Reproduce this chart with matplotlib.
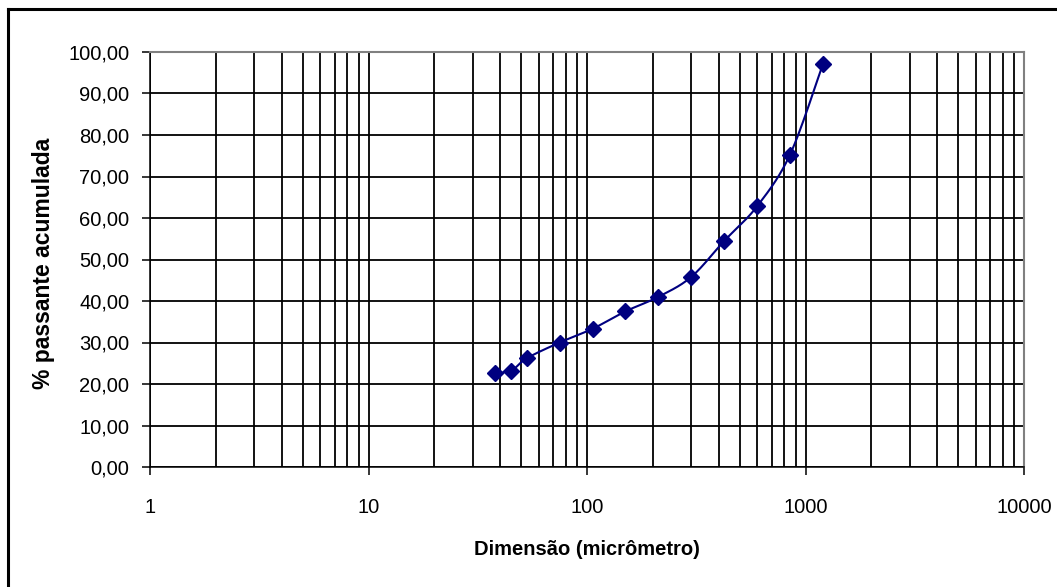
import matplotlib
matplotlib.use("Agg")
import matplotlib.pyplot as plt
import numpy as np
from matplotlib.lines import Line2D
from matplotlib.ticker import FixedLocator, FuncFormatter, LogLocator

# sieve openings (micrometres) and cumulative % passing
dimensao = [38, 45, 53, 75, 106, 150, 212, 300, 425, 600, 850, 1200]
passante = [22.7, 23.2, 26.2, 30.0, 33.3, 37.5, 41.0, 45.8, 54.5, 62.8, 75.3, 97.0]

x_ticks = [1, 10, 100, 1000, 10000]
y_ticks = list(range(0, 101, 10))

plt.rcParams["font.family"] = ["Liberation Sans", "DejaVu Sans"]

W, H = 1057, 587
fig = plt.figure(figsize=(W / 100, H / 100), dpi=100)
ax = fig.add_axes([150 / W, 1 - 467 / H, (1024 - 150) / W, (467 - 52) / H])


def smooth_curve(xs, ys, n=40):
    # Excel-like smoothed line: Catmull-Rom bezier in log-x / linear-y space
    u = np.log10(xs) * 218.0
    v = np.asarray(ys) * 4.15
    pts = np.column_stack([u, v])
    out = []
    for i in range(len(pts) - 1):
        p0 = pts[max(i - 1, 0)]
        p1 = pts[i]
        p2 = pts[i + 1]
        p3 = pts[min(i + 2, len(pts) - 1)]
        c1 = p1 + (p2 - p0) / 6.0
        c2 = p2 - (p3 - p1) / 6.0
        t = np.linspace(0, 1, n)[:, None]
        seg = ((1 - t) ** 3) * p1 + 3 * ((1 - t) ** 2) * t * c1 + 3 * (1 - t) * t ** 2 * c2 + t ** 3 * p2
        out.append(seg if i == 0 else seg[1:])
    seg = np.vstack(out)
    return 10 ** (seg[:, 0] / 218.0), seg[:, 1] / 4.15


sx, sy = smooth_curve(dimensao, passante)
ax.plot(sx, sy, color="#000080", lw=1.5, zorder=3)
ax.plot(dimensao, passante, ls="none", marker="D", ms=8, color="#000080", zorder=4)

ax.set_xscale("log")
ax.set_xlim(1, 10000)
ax.set_ylim(0, 100)

ax.xaxis.set_major_locator(FixedLocator(x_ticks))
ax.xaxis.set_minor_locator(LogLocator(base=10, subs=np.arange(2, 10)))
ax.xaxis.set_major_formatter(FuncFormatter(lambda v, p: f"{v:g}"))
ax.xaxis.set_minor_formatter(FuncFormatter(lambda v, p: ""))
ax.yaxis.set_major_locator(FixedLocator(y_ticks))
ax.yaxis.set_major_formatter(FuncFormatter(lambda v, p: f"{v:.2f}".replace(".", ",")))

ax.grid(True, which="major", color="black", lw=1.3)
ax.grid(True, which="minor", axis="x", color="black", lw=1.3)
ax.set_axisbelow(True)

ax.tick_params(axis="x", which="major", direction="out", length=6, width=1.1, pad=16, labelsize=14.5)
ax.tick_params(axis="x", which="minor", length=0)
ax.tick_params(axis="y", direction="out", length=6, width=1.1, pad=9, labelsize=14.5)

for side in ["left", "bottom"]:
    ax.spines[side].set_color("black")
    ax.spines[side].set_linewidth(1.1)
for side in ["top", "right"]:
    ax.spines[side].set_color("#808080")
    ax.spines[side].set_linewidth(1.5)

ax.set_xlabel("Dimensão (micrômetro)", fontsize=14.5, fontweight="bold")
ax.set_ylabel("% passante acumulada", fontsize=16.5, fontweight="bold")
ax.xaxis.set_label_coords(0.5, -0.175)
ax.yaxis.set_label_coords(-0.109, 0.49)

# chart area border (only left and top are visible)
fig.add_artist(Line2D([8 / W, 8 / W], [0, 1 - 9 / H], transform=fig.transFigure, color="black", lw=2.2))
fig.add_artist(Line2D([8 / W, 1], [1 - 9 / H, 1 - 9 / H], transform=fig.transFigure, color="black", lw=2.2))

fig.savefig("out.png", dpi=100)
